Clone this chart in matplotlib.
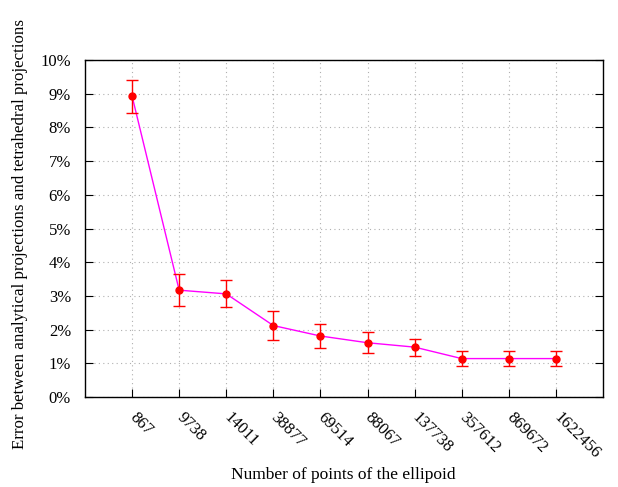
import matplotlib
matplotlib.use("Agg")
import matplotlib.pyplot as plt
from matplotlib.ticker import FuncFormatter

plt.rcParams['font.family'] = ['Liberation Serif', 'DejaVu Serif']

points = ["867", "9738", "14011", "38877", "69514", "88067",
          "137738", "357612", "869672", "1622456"]
error_pct = [8.93, 3.17, 3.06, 2.12, 1.81, 1.61, 1.48, 1.14, 1.14, 1.14]
error_dev = [0.49, 0.48, 0.40, 0.42, 0.37, 0.31, 0.25, 0.23, 0.23, 0.23]

xs = list(range(1, len(points) + 1))

fig = plt.figure(figsize=(6.18, 4.87), dpi=100)
ax = fig.add_axes([0.1375, 0.1848, 0.8382, 0.692])

ax.plot(xs, error_pct, color="magenta", lw=1, zorder=2)
ax.errorbar(xs, error_pct, yerr=error_dev, fmt="o", color="red", ms=5,
            ecolor="red", elinewidth=1, capsize=4, capthick=1, zorder=3)

ax.set_xlim(0, 11)
ax.set_ylim(0, 10)
ax.set_yticks(range(0, 11))
ax.yaxis.set_major_formatter(FuncFormatter(lambda v, p: f"{int(v)}%"))
ax.set_xticks(xs)
ax.set_xticklabels(points, rotation=-45, rotation_mode="anchor",
                   ha="left", va="center")

ax.grid(True, linestyle=(0, (1, 3)), color="#b0b0b0", lw=0.8)
ax.tick_params(direction="in", length=6, labelsize=12, right=True, top=False)
ax.tick_params(axis="x", pad=13)
ax.tick_params(axis="y", pad=10)
for s in ax.spines.values():
    s.set_linewidth(1)

# axis titles placed like the original
fig.text(0.555, 0.025, "Number of points of the ellipoid", fontsize=12.5,
         ha="center", va="center")
fig.text(0.033, 0.52,
         "Error between analytical projections and tetrahedral projections",
         fontsize=12.2, rotation=90, ha="center", va="center")

fig.savefig("out.png", dpi=100)
